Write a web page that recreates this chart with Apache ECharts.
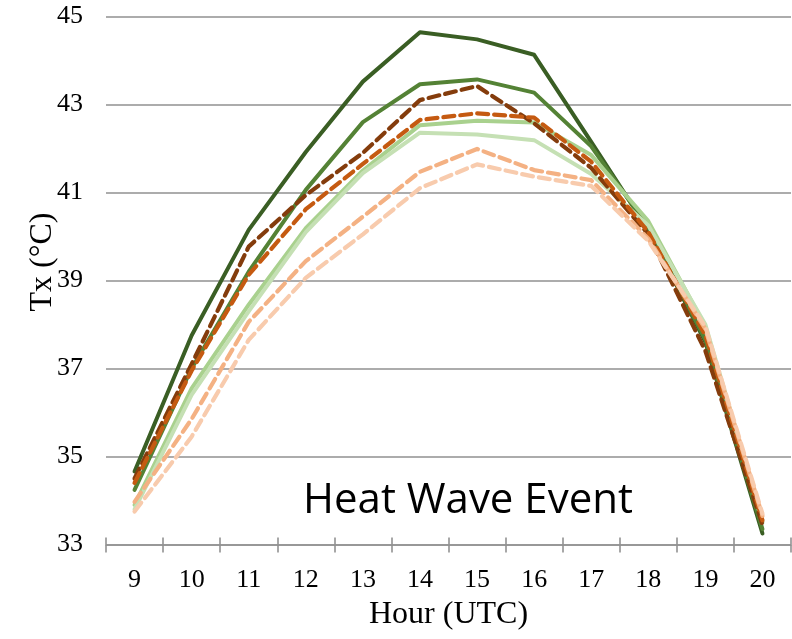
<!DOCTYPE html>
<html>
<head>
<meta charset="utf-8">
<script src="https://cdn.jsdelivr.net/npm/echarts@6/dist/echarts.min.js"></script>
<style>
html,body{margin:0;padding:0;background:#fff;}
#chart{width:792px;height:639px;}
</style>
</head>
<body>
<div id="chart"></div>
<script>
var hours = ['9','10','11','12','13','14','15','16','17','18','19','20'];
var yTicks = [33, 35, 37, 39, 41, 43, 45];

var greenDark    = [34.66, 37.75, 40.15, 41.92, 43.52, 44.64, 44.48, 44.13, 42.15, 40.15, 37.60, 33.25];
var greenMid     = [34.24, 37.00, 39.20, 41.06, 42.60, 43.46, 43.57, 43.27, 42.05, 40.20, 37.65, 33.35];
var greenLight   = [33.90, 36.55, 38.45, 40.19, 41.50, 42.53, 42.63, 42.59, 41.85, 40.35, 37.95, 33.50];
var greenPale    = [33.80, 36.40, 38.30, 40.10, 41.44, 42.36, 42.32, 42.19, 41.42, 40.25, 38.00, 33.55];
var orangeDark   = [34.50, 37.10, 39.77, 40.94, 41.90, 43.10, 43.42, 42.57, 41.56, 40.05, 37.40, 33.45];
var orangeMid    = [34.40, 36.95, 39.13, 40.62, 41.65, 42.65, 42.80, 42.70, 41.70, 40.10, 37.75, 33.55];
var orangeLight  = [33.97, 35.85, 38.06, 39.44, 40.45, 41.47, 41.99, 41.51, 41.28, 39.95, 37.90, 33.65];
var orangePale   = [33.75, 35.45, 37.65, 39.06, 40.05, 41.10, 41.64, 41.36, 41.15, 39.90, 37.95, 33.70];

var chart = echarts.init(document.getElementById('chart'), null, {renderer: 'canvas'});

function solid(data, color, w) {
  return {type: 'line', data: data, symbol: 'none', smooth: false, xAxisIndex: 0,
    lineStyle: {color: color, width: w, type: 'solid', cap: 'round', join: 'round'}, z: 3};
}
function dashed(data, color, w) {
  return {type: 'line', data: data, symbol: 'none', smooth: false, xAxisIndex: 0,
    lineStyle: {color: color, width: w, type: [11, 6], cap: 'round', join: 'round'}, z: 3};
}

var serif = '"Liberation Serif", "Times New Roman", serif';
var gridGray = '#919191';

chart.setOption({
  animation: false,
  backgroundColor: '#ffffff',
  grid: {left: 106, right: 1, top: 16.5, bottom: 94.5, containLabel: false},
  xAxis: [{
    type: 'category', data: hours, boundaryGap: true, position: 'bottom',
    axisLine: {show: true, lineStyle: {color: gridGray, width: 1.6}},
    axisTick: {show: true, interval: 0, length: 8, inside: false, lineStyle: {color: gridGray, width: 1.6}},
    axisLabel: {interval: 0, margin: 23, color: '#000', fontFamily: serif, fontSize: 26},
    name: 'Hour (UTC)', nameLocation: 'middle', nameGap: 53,
    nameTextStyle: {color: '#000', fontFamily: serif, fontSize: 32}
  }, {
    type: 'category', data: hours, boundaryGap: true, position: 'bottom',
    axisLine: {show: false},
    axisTick: {show: true, interval: 0, length: 7, inside: true, lineStyle: {color: gridGray, width: 1.6}},
    axisLabel: {show: false}
  }],
  yAxis: {
    type: 'value', min: 33, max: 45, interval: 2,
    axisLine: {show: false}, axisTick: {show: false},
    splitLine: {show: true, lineStyle: {color: gridGray, width: 1.6}},
    axisLabel: {margin: 23, color: '#000', fontFamily: serif, fontSize: 26,
      formatter: function (v) { return yTicks.indexOf(v) >= 0 ? String(v) : ''; }}
  },
  graphic: [{
    type: 'text', left: 303, top: 480,
    style: {text: 'Heat Wave Event', font: '42px "Open Sans", sans-serif', fill: '#000'}
  }, {
    type: 'text', x: 43, y: 262, rotation: Math.PI / 2,
    style: {text: 'Tx (°C)', font: '32px "Liberation Serif", serif', fill: '#000',
      align: 'center', verticalAlign: 'middle'}
  }],
  series: [
    solid(greenDark, '#3a5e24', 4),
    solid(greenMid, '#548235', 4),
    solid(greenLight, '#a9d18e', 4),
    solid(greenPale, '#c5e0b4', 4),
    dashed(orangeDark, '#843c0c', 4.2),
    dashed(orangeMid, '#c55a11', 4.2),
    dashed(orangeLight, '#f4b183', 4.2),
    dashed(orangePale, '#f8cbad', 4.2)
  ]
});
</script>
</body>
</html>
